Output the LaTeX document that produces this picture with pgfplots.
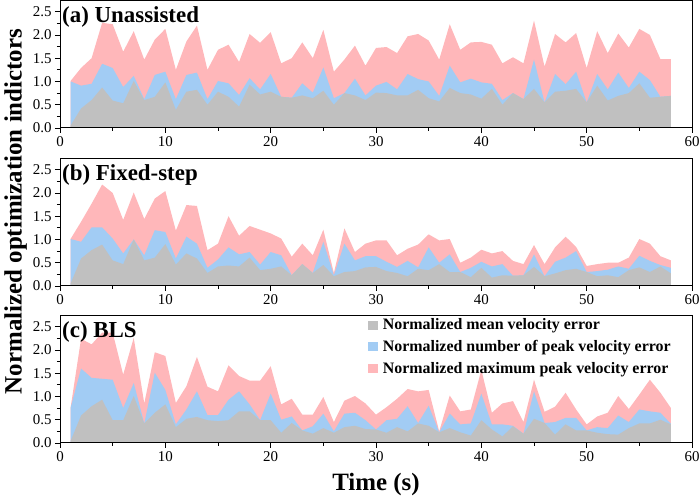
\documentclass[border=0pt]{standalone}
\usepackage{fontspec}
\setmainfont{Liberation Serif}
\usepackage{pgfplots}
\usepackage{pgfplotstable}
\pgfplotsset{compat=1.18}
\definecolor{cgray}{HTML}{C0C0C0}
\definecolor{cblue}{HTML}{A2CCF4}
\definecolor{cpink}{HTML}{FFB7BA}

\pgfplotstableread{
t g b p
1 0.05 1.00 1.01
2 0.42 0.91 1.29
3 0.60 0.95 1.50
4 0.87 1.38 2.26
5 0.59 1.29 2.23
6 0.53 0.88 1.64
7 1.01 1.12 2.08
8 0.60 0.62 1.47
9 0.67 1.14 1.90
10 0.98 1.21 2.13
11 0.39 0.62 1.25
12 0.78 1.14 1.86
13 0.82 1.19 2.20
14 0.50 0.62 1.25
15 0.78 1.01 1.68
16 0.67 0.96 1.79
17 0.46 0.71 1.42
18 0.93 1.07 2.02
19 0.72 0.83 1.83
20 0.78 1.16 2.06
21 0.67 0.67 1.39
22 0.65 0.65 1.50
23 0.70 0.96 1.84
24 0.64 0.76 1.50
25 0.80 1.30 2.11
26 0.50 0.64 1.21
27 0.75 0.75 1.47
28 0.70 1.06 1.77
29 0.60 0.70 1.34
30 0.76 0.91 1.72
31 0.75 0.99 1.74
32 0.70 0.83 1.61
33 0.70 1.16 1.97
34 0.82 1.05 2.02
35 0.64 1.00 1.88
36 0.57 0.69 1.47
37 0.86 1.34 2.23
38 0.75 0.98 1.68
39 0.72 1.06 1.84
40 0.63 0.98 1.85
41 0.84 0.95 1.79
42 0.50 0.60 1.39
43 0.75 0.75 1.52
44 0.62 0.62 1.39
45 0.84 1.47 2.31
46 0.55 0.55 1.32
47 0.78 1.16 2.02
48 0.80 0.94 1.84
49 0.84 1.21 2.04
50 0.55 0.55 1.29
51 0.91 1.16 2.08
52 0.59 0.83 1.61
53 0.69 1.19 2.03
54 0.75 0.86 1.73
55 0.96 1.21 2.13
56 0.65 1.03 2.00
57 0.67 0.67 1.48
58 0.69 0.69 1.48
}\dataA

\pgfplotstableread{
t g b p
1 0.05 1.01 1.01
2 0.59 0.95 1.38
3 0.77 1.26 1.77
4 0.89 1.26 2.18
5 0.55 1.02 2.00
6 0.47 0.70 1.42
7 1.00 1.00 2.01
8 0.55 0.66 1.44
9 0.61 1.20 1.88
10 0.90 1.16 2.04
11 0.46 0.59 1.19
12 0.70 1.06 1.74
13 0.59 0.91 1.72
14 0.28 0.39 0.77
15 0.42 0.57 0.91
16 0.44 0.83 1.50
17 0.42 0.68 1.08
18 0.61 0.73 1.29
19 0.34 0.46 1.21
20 0.37 0.73 1.13
21 0.42 0.66 1.02
22 0.23 0.23 0.63
23 0.47 0.47 0.91
24 0.28 0.28 0.66
25 0.45 0.95 1.21
26 0.21 0.23 0.28
27 0.30 0.91 1.24
28 0.32 0.55 0.73
29 0.40 0.64 0.91
30 0.41 0.64 0.98
31 0.32 0.52 0.98
32 0.28 0.41 0.66
33 0.21 0.54 0.80
34 0.37 0.40 0.89
35 0.34 0.83 1.11
36 0.47 0.50 0.98
37 0.30 0.68 1.01
38 0.30 0.30 0.50
39 0.19 0.39 0.61
40 0.39 0.52 0.78
41 0.18 0.42 0.70
42 0.23 0.47 0.75
43 0.22 0.22 0.54
44 0.23 0.23 0.47
45 0.41 0.68 0.88
46 0.21 0.21 0.47
47 0.27 0.52 0.83
48 0.34 0.61 1.06
49 0.37 0.75 0.84
50 0.30 0.30 0.43
51 0.21 0.32 0.47
52 0.23 0.35 0.50
53 0.19 0.42 0.50
54 0.34 0.37 0.61
55 0.40 0.65 1.01
56 0.30 0.54 0.91
57 0.42 0.45 0.64
58 0.27 0.39 0.55
}\dataB

\pgfplotstableread{
t g b p
1 0.04 0.75 0.75
2 0.59 1.60 2.24
3 0.79 1.40 2.12
4 0.93 1.38 2.37
5 0.49 1.36 2.37
6 0.49 0.75 1.47
7 1.01 1.29 2.26
8 0.42 0.42 0.85
9 0.65 1.51 1.95
10 0.83 1.14 1.87
11 0.34 0.40 0.86
12 0.52 0.72 1.22
13 0.56 1.11 1.85
14 0.49 0.60 1.21
15 0.47 0.60 1.11
16 0.49 0.93 1.67
17 0.68 1.11 1.44
18 0.68 0.83 1.34
19 0.49 0.49 1.34
20 0.49 1.06 1.65
21 0.22 0.50 0.83
22 0.43 0.57 0.95
23 0.27 0.27 0.61
24 0.20 0.36 0.61
25 0.32 0.63 0.99
26 0.22 0.25 0.45
27 0.34 0.63 0.91
28 0.37 0.65 1.01
29 0.30 0.49 0.85
30 0.29 0.29 0.61
31 0.22 0.49 0.77
32 0.34 0.52 0.95
33 0.25 0.79 1.16
34 0.42 0.43 1.11
35 0.37 0.80 1.14
36 0.23 0.23 0.25
37 0.32 0.63 1.02
38 0.23 0.40 0.68
39 0.16 0.42 0.72
40 0.49 1.06 1.57
41 0.29 0.40 0.65
42 0.14 0.40 0.85
43 0.36 0.37 0.90
44 0.20 0.20 0.45
45 0.52 1.11 1.36
46 0.43 0.43 0.67
47 0.18 0.45 0.78
48 0.40 0.54 1.08
49 0.27 0.54 0.72
50 0.27 0.27 0.40
51 0.22 0.34 0.57
52 0.19 0.32 0.65
53 0.18 0.59 1.01
54 0.32 0.45 0.73
55 0.42 0.72 1.04
56 0.42 0.68 1.36
57 0.50 0.65 1.08
58 0.40 0.41 0.75
}\dataC

\pgfplotsset{
  panel/.style={
    width=632bp, height=127.5bp, scale only axis,
    xmin=0, xmax=60, ymin=0, ymax=2.74,
    xtick={0,10,...,60}, ytick={0,0.5,1.0,1.5,2.0,2.5},
    minor x tick num=1, minor y tick num=1,
    tick align=outside, xtick pos=bottom, ytick pos=left,
    major tick length=5bp, minor tick length=3bp,
    axis line style={line width=1bp},
    every tick/.style={line width=0.8bp, black},
    ticklabel style={font=\fontsize{15}{15}\selectfont},
    /pgf/number format/assume math mode=true,
    yticklabel style={/pgf/number format/.cd, fixed, fixed zerofill, precision=1},
    axis on top,
  },
}
\tikzset{
  ptitle/.style={anchor=base west, font=\bfseries\fontsize{23}{23}\selectfont, inner sep=0pt, xshift=2bp, yshift=-22bp},
}

\begin{document}
\begin{tikzpicture}
\useasboundingbox (0,0) rectangle (699bp,497bp);

\begin{axis}[panel, at={(60bp,369bp)}, anchor=south west]
\addplot[fill=cpink, draw=none] table[x=t, y=p] {\dataA} \closedcycle;
\addplot[fill=cblue, draw=none] table[x=t, y=b] {\dataA} \closedcycle;
\addplot[fill=cgray, draw=none] table[x=t, y=g] {\dataA} \closedcycle;
\node[ptitle] at (rel axis cs:0,1) {(a) Unassisted};
\end{axis}

\begin{axis}[panel, at={(60bp,211bp)}, anchor=south west]
\addplot[fill=cpink, draw=none] table[x=t, y=p] {\dataB} \closedcycle;
\addplot[fill=cblue, draw=none] table[x=t, y=b] {\dataB} \closedcycle;
\addplot[fill=cgray, draw=none] table[x=t, y=g] {\dataB} \closedcycle;
\node[ptitle] at (rel axis cs:0,1) {(b) Fixed-step};
\end{axis}

\begin{axis}[panel, at={(60bp,54bp)}, anchor=south west,
  reverse legend, legend cell align=left,
  legend image code/.code={\fill[#1] (0bp,-4.5bp) rectangle (10bp,4.5bp);},
  legend style={at={(rel axis cs:0.487,0.99)}, anchor=north west, draw=none, fill=none,
    inner sep=0pt, outer sep=0pt, row sep=5bp,
    font=\bfseries\fontsize{16}{16}\selectfont,
    nodes={inner sep=2bp},
    /tikz/every odd column/.append style={column sep=3bp}},
]
\addplot[fill=cpink, draw=none] table[x=t, y=p] {\dataC} \closedcycle;
\addlegendentry{Normalized maximum peak velocity error}
\addplot[fill=cblue, draw=none] table[x=t, y=b] {\dataC} \closedcycle;
\addlegendentry{Normalized number of peak velocity error}
\addplot[fill=cgray, draw=none] table[x=t, y=g] {\dataC} \closedcycle;
\addlegendentry{Normalized mean velocity error}
\node[ptitle] at (rel axis cs:0,1) {(c) BLS};
\end{axis}

\node[rotate=90, anchor=base, font=\bfseries\fontsize{25}{25}\selectfont, inner sep=0pt] at (21.5bp,285.5bp) {Normalized optimization indictors};
\node[anchor=base, font=\bfseries\fontsize{25}{25}\selectfont, inner sep=0pt] at (376bp,7bp) {Time (s)};
\end{tikzpicture}
\end{document}
